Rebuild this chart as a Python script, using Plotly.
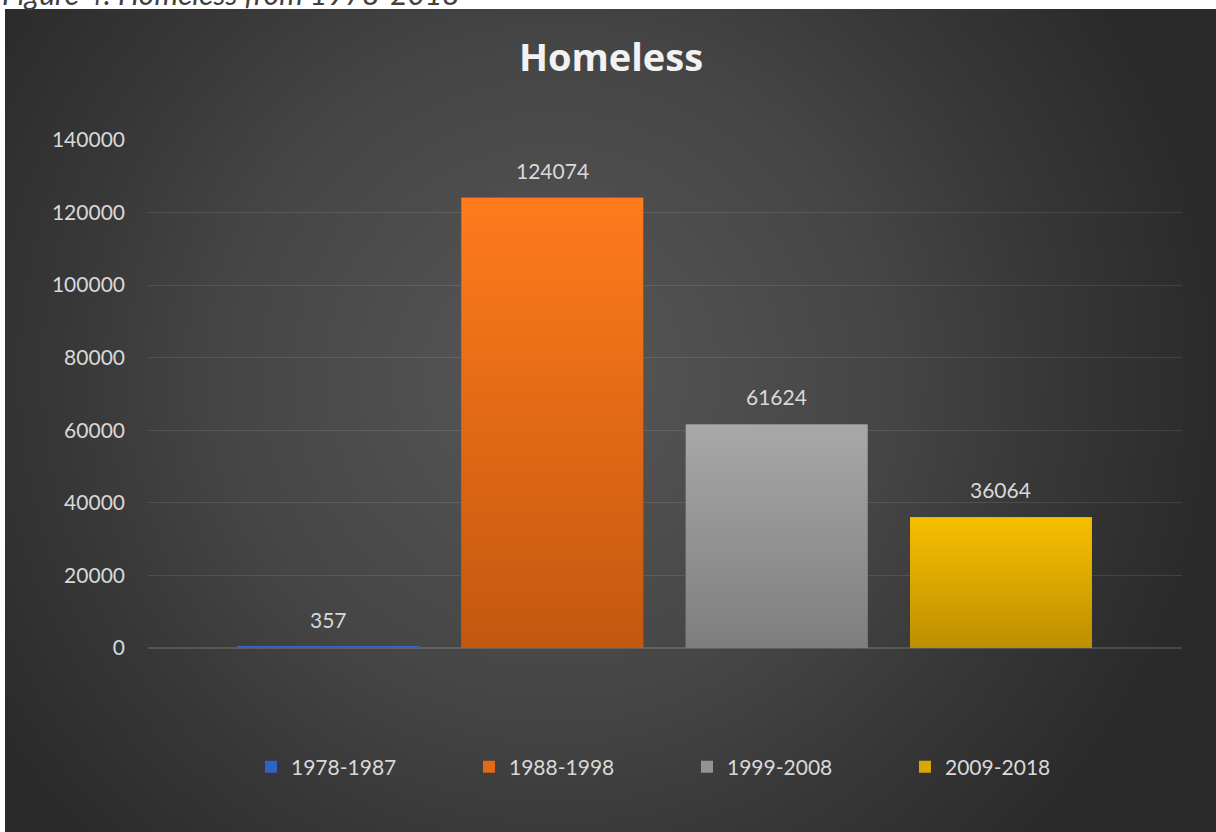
import base64
import plotly.graph_objects as go

# Homeless counts by decade
periods = ["1978-1987", "1988-1998", "1999-2008", "2009-2018"]
homeless = [357, 124074, 61624, 36064]
y_tick_values = [0, 20000, 40000, 60000, 80000, 100000, 120000, 140000]

# Vertical gradient per bar: lighter at the top, darker at the base
top_colors = ["#3b70da", "#ff7b1c", "#a8a8a8", "#f8bf00"]
base_colors = ["#2a56b0", "#c3580f", "#7e7e7e", "#bd8f00"]
mid_colors = ["#3262c4", "#e26915", "#939393", "#daa700"]

BAR_WIDTH = 0.81
W, H = 1216, 832
M_L, M_R, M_T, M_B = 148, 34, 140, 184
PW, PH = W - M_L - M_R, H - M_T - M_B


def px_to_paper_x(px):
    return (px - M_L) / PW


def px_to_paper_y(py):
    return (H - M_B - py) / PH


# Dark panel with a soft radial highlight
panel_w, panel_h = 1211, 823
panel_svg = f"""<svg xmlns="http://www.w3.org/2000/svg" width="{panel_w}" height="{panel_h}">
<defs><radialGradient id="g" gradientUnits="userSpaceOnUse" cx="550" cy="365" r="670">
<stop offset="0" stop-color="#575757"/>
<stop offset="0.5" stop-color="#454545"/>
<stop offset="0.72" stop-color="#383838"/>
<stop offset="1" stop-color="#2a2a2a"/>
</radialGradient></defs>
<rect width="{panel_w}" height="{panel_h}" fill="url(#g)"/>
</svg>"""
panel_src = "data:image/svg+xml;base64," + base64.b64encode(panel_svg.encode()).decode()

fig = go.Figure()

x_pos = list(range(len(periods)))

for i, (name, val) in enumerate(zip(periods, homeless)):
    fig.add_trace(go.Bar(
        x=[x_pos[i]], y=[val], name=name, width=BAR_WIDTH,
        marker=dict(color=mid_colors[i], line=dict(width=0)),
        hovertemplate=f"{name}: %{{y}}<extra></extra>",
    ))

# Gradient faces drawn over each bar
for i, val in enumerate(homeless):
    half = BAR_WIDTH / 2
    xs = [x_pos[i] - half, x_pos[i] + half, x_pos[i] + half, x_pos[i] - half, x_pos[i] - half]
    ys = [0, 0, val, val, 0]
    fig.add_trace(go.Scatter(
        x=xs, y=ys, mode="lines", fill="toself",
        line=dict(width=0, color=mid_colors[i]),
        fillgradient=dict(type="vertical",
                          colorscale=[[0, base_colors[i]], [1, top_colors[i]]]),
        showlegend=False, hoverinfo="skip",
    ))

label_font = dict(family="Lato", size=21, color="#d9d9d9")

for i, val in enumerate(homeless):
    fig.add_annotation(
        x=x_pos[i], y=val, text=str(val), showarrow=False,
        xref="x", yref="y", yanchor="bottom", yshift=13, font=label_font,
    )

# Figure caption partly above the page edge
fig.add_annotation(
    x=px_to_paper_x(0), y=px_to_paper_y(-7), xref="paper", yref="paper",
    xanchor="left", yanchor="middle", showarrow=False,
    text="<i>Figure 4: Homeless from 1978-2018</i>",
    font=dict(family="Lato", size=30, color="#404040"),
)

fig.add_layout_image(
    source=panel_src, xref="paper", yref="paper",
    x=px_to_paper_x(5), y=px_to_paper_y(9),
    sizex=panel_w / PW, sizey=panel_h / PH,
    xanchor="left", yanchor="top", sizing="stretch", layer="below",
)

fig.update_layout(
    width=W, height=H,
    margin=dict(l=M_L, r=M_R, t=M_T, b=M_B, pad=0),
    paper_bgcolor="#ffffff",
    plot_bgcolor="rgba(0,0,0,0)",
    barmode="overlay",
    title=dict(
        text="<b>Homeless</b>", xref="container", yref="container",
        x=611 / W, y=1 - 58 / H, xanchor="center", yanchor="middle",
        font=dict(family="Open Sans", size=38, color="#f2f2f2"),
    ),
    xaxis=dict(
        range=[-0.8024, 3.807], showticklabels=False, showgrid=False,
        zeroline=False, showline=False, ticks="",
    ),
    yaxis=dict(
        range=[0, 140000], tickvals=y_tick_values,
        ticktext=[str(v) for v in y_tick_values],
        showgrid=True, gridcolor="rgba(255,255,255,0.1)", gridwidth=1,
        zeroline=True, zerolinecolor="rgba(255,255,255,0.14)", zerolinewidth=1.5,
        showline=False, ticks="", ticklabelstandoff=22,
        tickfont=dict(family="Lato", size=21, color="#d9d9d9"),
    ),
    legend=dict(
        orientation="h", x=px_to_paper_x(251), xanchor="left",
        y=px_to_paper_y(767), yanchor="middle",
        bgcolor="rgba(0,0,0,0)", itemwidth=30, entrywidth=173,
        font=dict(family="Lato", size=21, color="#d9d9d9"),
        traceorder="normal",
    ),
    showlegend=True,
)

fig.write_html("out.html")
